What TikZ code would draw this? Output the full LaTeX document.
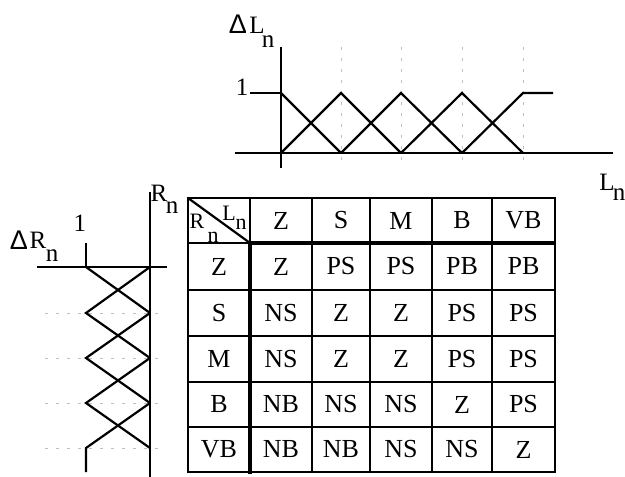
\documentclass[tikz,border=0pt]{standalone}
\usepackage{fontspec}
\setmainfont{Liberation Serif}
\newfontfamily\deltafont{Liberation Sans}
\tikzset{
  lbl/.style={inner sep=0pt, font=\fontsize{25}{25}\selectfont},
  corner/.style={inner sep=0pt, font=\fontsize{22}{22}\selectfont},
  cell/.style={inner sep=0pt, font=\fontsize{26}{26}\selectfont},
  guide/.style={gray!50, line width=0.8pt, dash pattern=on 3pt off 8pt},
  heavy/.style={line width=4pt}
}
\begin{document}
\begin{tikzpicture}[x=1pt, y=-1pt, line width=2.2pt]
\useasboundingbox (0,0) rectangle (625,477);

% top chart: Delta L_n over L_n
\foreach \x in {341,401,462,523} \draw[guide] (\x,47) -- (\x,168);
\draw (235,153) -- (613,153);
\draw (281,47) -- (281,168);
\draw (250,93) -- (281,93);
\draw (281,93) -- (341,153);
\draw (281,153) -- (341,93) -- (401,153);
\draw (341,153) -- (401,93) -- (462,153);
\draw (401,153) -- (462,93) -- (523,153);
\draw (462,153) -- (523,93) -- (553,93);
\node[lbl, font=\deltafont\fontsize{27}{27}\selectfont] (dLd) at (238,24) {Δ};
\node[lbl] (dLl) at (257,25) {L};
\node[lbl] (dLn) at (268,42) {n};
\node[lbl] (oneL) at (242,87) {1};
\node[lbl] (Lx) at (607,182) {L};
\node[lbl] (Lxn) at (619,195) {n};

% left chart: Delta R_n over R_n
\foreach \y in {313,358,403,448} \draw[guide] (45,\y) -- (165,\y);
\draw (150,192) -- (150,477);
\draw (37,267) -- (167,267);
\draw (86,243) -- (86,267);
\draw (86,267) -- (150,313);
\draw (150,267) -- (86,313) -- (150,358);
\draw (150,313) -- (86,358) -- (150,403);
\draw (150,358) -- (86,403) -- (150,448);
\draw (150,403) -- (86,448) -- (86,472);
\node[lbl, font=\deltafont\fontsize{27}{27}\selectfont] (dRd) at (19,240) {Δ};
\node[lbl] (dRr) at (38,240) {R};
\node[lbl] (dRn) at (52,256) {n};
\node[lbl] (oneR) at (80,223) {1};
\node[lbl] (Ry) at (159,193) {R};
\node[lbl] (Ryn) at (172,208) {n};

% rule table
\draw (188,198) rectangle (555,472);
\foreach \x in {312,370,432,492} \draw (\x,198) -- (\x,472);
\foreach \y in {290,336,382,427} \draw (188,\y) -- (555,\y);
\draw (250,198) -- (250,243);
\draw (188,243) -- (250,243);
\draw[heavy] (250,243) -- (555,243);
\draw[heavy] (250,243) -- (250,474);
\draw (188,198) -- (250,243);
\node[corner] (cR) at (197,221) {R};
\node[corner] (cRn) at (213,237) {n};
\node[corner] (cL) at (229,213) {L};
\node[corner] (cLn) at (241,224) {n};

% header row and first column
\foreach \lab [count=\i] in {Z,S,M,B,VB} {
  \pgfmathsetmacro{\cx}{{219,281,341,401,462,523.5}[\i]}
  \pgfmathsetmacro{\ry}{{220.5,266.5,313,359,404.5,449.5}[\i]}
  \node[cell] (h\i) at (\cx,220.5) {\lab};
  \node[cell] (v\i) at (219,\ry) {\lab};
}

% body of the table
\foreach \row [count=\r] in {{Z,PS,PS,PB,PB},{NS,Z,Z,PS,PS},{NS,Z,Z,PS,PS},{NB,NS,NS,Z,PS},{NB,NB,NS,NS,Z}} {
  \pgfmathsetmacro{\ry}{{220.5,266.5,313,359,404.5,449.5}[\r]}
  \foreach \lab [count=\c] in \row {
    \pgfmathsetmacro{\cx}{{219,281,341,401,462,523.5}[\c]}
    \node[cell] (b\r\c) at (\cx,\ry) {\lab};
  }
}
\end{tikzpicture}
\end{document}
